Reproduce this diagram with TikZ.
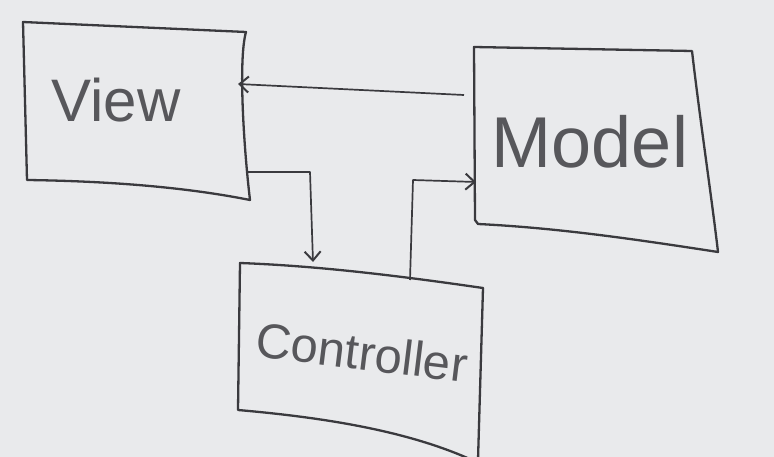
\documentclass[tikz,border=0pt]{standalone}
\usepackage{fontspec}
\setmainfont{Liberation Sans}
\usetikzlibrary{arrows.meta}
\definecolor{board}{RGB}{233,234,236}
\definecolor{ink}{RGB}{58,58,62}
\begin{document}
\begin{tikzpicture}[x=1pt,y=-1pt,
  box/.style={draw=ink, line width=2.3pt, line join=round, line cap=round},
  conn/.style={draw=ink, line width=1.7pt, line join=round, -{Straight Barb[length=9pt,width=16pt,line width=2pt]}},
  word/.style={text=ink!85, inner sep=0pt}]
\fill[board] (0,0) rectangle (774,457);
\useasboundingbox (0,0) rectangle (774,457);
% View box
\draw[box] (23,22) -- (246,32) .. controls (238,60) and (244,150) .. (250,200)
  .. controls (180,186) and (100,181) .. (27,180) -- cycle;
\node[word, font=\fontsize{60}{60}\selectfont] (view) at (116,100) {View};
% Model box
\draw[box] (474,47) -- (692,51) .. controls (700,120) and (712,200) .. (718,252)
  .. controls (640,240) and (560,228) .. (478,224) -- (475,220) -- cycle;
\node[word, font=\fontsize{72}{72}\selectfont] (model) at (590,142) {Model};
% Controller box
\draw[box] (483,288) .. controls (400,276) and (320,266) .. (240,263) -- (238,410)
  .. controls (330,418) and (410,432) .. (472,460);
\draw[box] (483,288) -- (478,460);
\node[word, font=\fontsize{49}{49}\selectfont, rotate=-7] (controller) at (362,352) {Controller};
% connector anchors
\coordinate (mOut) at (464,95);
\coordinate (vIn) at (238,84);
\coordinate (vOut) at (247,172);
\coordinate (vc) at (310,172);
\coordinate (cIn) at (313,262);
\coordinate (cOut) at (410,280);
\coordinate (cm) at (413,180);
\coordinate (mIn) at (476,182);
\draw[conn] (mOut) -- (vIn);
\draw[conn] (vOut) -- (vc) -- (cIn);
\draw[conn] (cOut) -- (cm) -- (mIn);
\end{tikzpicture}
\end{document}
